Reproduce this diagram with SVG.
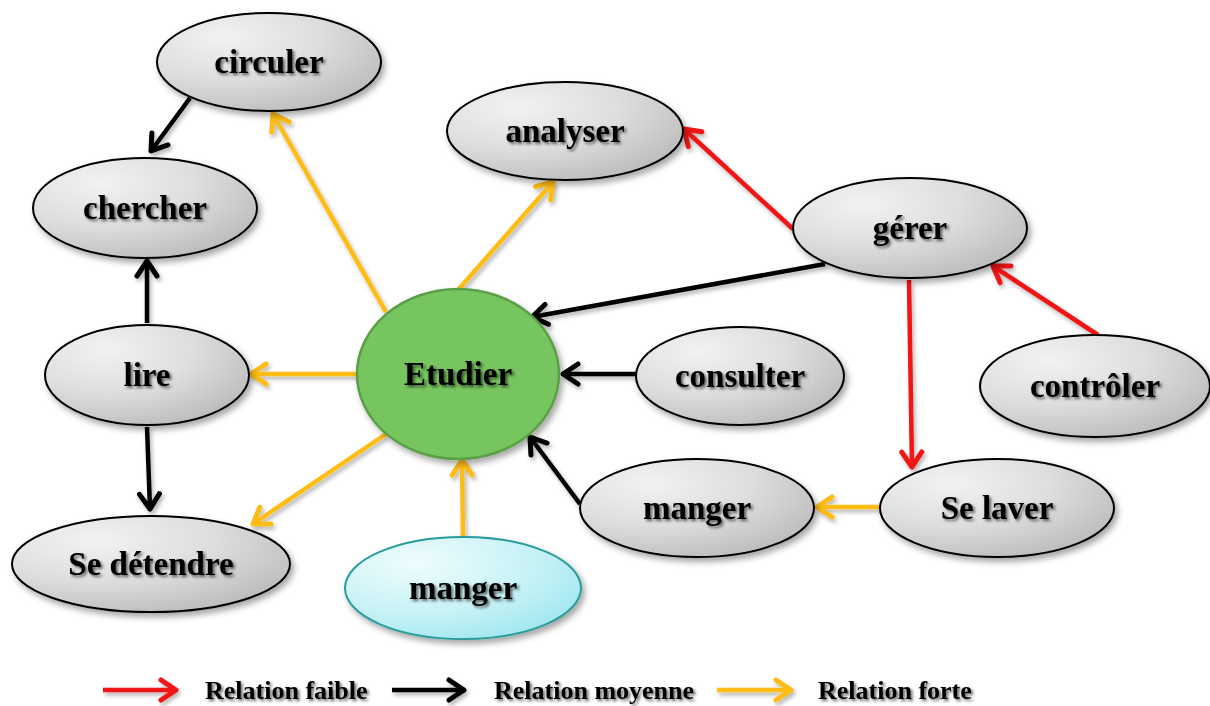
<svg xmlns="http://www.w3.org/2000/svg" width="1210" height="706" viewBox="0 0 1210 706">
<defs>
<style>
.lbl{font-family:"Liberation Serif","Times New Roman",serif;font-weight:bold;font-size:33px;fill:#000;text-anchor:middle;dominant-baseline:central;filter:url(#tsh)}
.leg{font-family:"Liberation Serif","Times New Roman",serif;font-weight:bold;font-size:26px;fill:#000;filter:url(#tsh)}
.gray{fill:url(#gg);stroke:#000;stroke-width:2;filter:url(#esh)}
.c{fill:none;stroke-width:4.5;filter:url(#lsh)}
.r{stroke:#f01414}
.k{stroke:#000}
.o{stroke:#fdbd12}
</style>
<radialGradient id="gg" cx="0.3" cy="0.25" r="0.85">
<stop offset="0" stop-color="#f2f2f2"/>
<stop offset="0.5" stop-color="#dedede"/>
<stop offset="1" stop-color="#bababa"/>
</radialGradient>
<radialGradient id="cg" cx="0.3" cy="0.25" r="0.85">
<stop offset="0" stop-color="#effcfd"/>
<stop offset="0.6" stop-color="#c6f2f6"/>
<stop offset="1" stop-color="#9fe6ef"/>
</radialGradient>
<filter id="esh" x="-20%" y="-20%" width="140%" height="150%">
<feDropShadow dx="3" dy="4" stdDeviation="3" flood-color="#000" flood-opacity="0.35"/>
</filter>
<filter id="tsh" x="-10%" y="-20%" width="130%" height="150%">
<feDropShadow dx="2" dy="2" stdDeviation="1.6" flood-color="#000" flood-opacity="0.6"/>
</filter>
<filter id="lsh" filterUnits="userSpaceOnUse" x="0" y="0" width="1210" height="706">
<feDropShadow dx="2" dy="3" stdDeviation="2" flood-color="#000" flood-opacity="0.3"/>
</filter>
<marker id="ar" viewBox="0 0 24 26" refX="20" refY="13" markerWidth="24" markerHeight="26" markerUnits="userSpaceOnUse" orient="auto">
<path d="M5,3 L20,13 L5,23" fill="none" stroke="#f01414" stroke-width="5" stroke-linecap="round" stroke-linejoin="round"/>
</marker>
<marker id="ak" viewBox="0 0 24 26" refX="20" refY="13" markerWidth="24" markerHeight="26" markerUnits="userSpaceOnUse" orient="auto">
<path d="M5,3 L20,13 L5,23" fill="none" stroke="#000" stroke-width="5" stroke-linecap="round" stroke-linejoin="round"/>
</marker>
<marker id="ao" viewBox="0 0 24 26" refX="20" refY="13" markerWidth="24" markerHeight="26" markerUnits="userSpaceOnUse" orient="auto">
<path d="M5,3 L20,13 L5,23" fill="none" stroke="#fdbd12" stroke-width="5" stroke-linecap="round" stroke-linejoin="round"/>
</marker>
</defs>
<rect width="1210" height="706" fill="#fff"/>

<g id="connectors">
<line class="c k" x1="190" y1="98" x2="151" y2="151" marker-end="url(#ak)"/>
<line class="c k" x1="147" y1="323" x2="147" y2="261" marker-end="url(#ak)"/>
<line class="c k" x1="147" y1="427" x2="150" y2="509" marker-end="url(#ak)"/>
<line class="c o" x1="357" y1="374" x2="251" y2="374" marker-end="url(#ao)"/>
<line class="c o" x1="386" y1="312" x2="273" y2="114" marker-end="url(#ao)"/>
<line class="c o" x1="458" y1="290" x2="553" y2="182" marker-end="url(#ao)"/>
<line class="c o" x1="386" y1="434" x2="253" y2="524" marker-end="url(#ao)"/>
<line class="c o" x1="463" y1="536" x2="462" y2="460" marker-end="url(#ao)"/>
<line class="c k" x1="825" y1="264" x2="532" y2="317" marker-end="url(#ak)"/>
<line class="c k" x1="636" y1="374" x2="563" y2="374" marker-end="url(#ak)"/>
<line class="c k" x1="580" y1="504" x2="530" y2="437" marker-end="url(#ak)"/>
<line class="c r" x1="793" y1="229" x2="684" y2="129" marker-end="url(#ar)"/>
<line class="c r" x1="1098" y1="335" x2="993" y2="266" marker-end="url(#ar)"/>
<line class="c r" x1="909" y1="280" x2="912" y2="467" marker-end="url(#ar)"/>
<line class="c o" x1="880" y1="507" x2="817" y2="507" marker-end="url(#ao)"/>
</g>

<g id="n-circuler"><ellipse class="gray" cx="269" cy="62" rx="112" ry="49"/><text class="lbl" x="269" y="62">circuler</text></g>
<g id="n-chercher"><ellipse class="gray" cx="145" cy="208" rx="112" ry="50"/><text class="lbl" x="145" y="208">chercher</text></g>
<g id="n-analyser"><ellipse class="gray" cx="565" cy="131" rx="118" ry="49"/><text class="lbl" x="565" y="131">analyser</text></g>
<g id="n-gerer"><ellipse class="gray" cx="910" cy="228" rx="117" ry="50"/><text class="lbl" x="910" y="228">gérer</text></g>
<g id="n-lire"><ellipse class="gray" cx="147" cy="375" rx="102" ry="50"/><text class="lbl" x="147" y="375">lire</text></g>
<g id="n-etudier"><ellipse cx="458" cy="374" rx="101" ry="85" fill="#77c55f" stroke="#5a9e46" stroke-width="2.5" filter="url(#esh)"/><text class="lbl" x="458" y="374">Etudier</text></g>
<g id="n-consulter"><ellipse class="gray" cx="740" cy="376" rx="104" ry="49"/><text class="lbl" x="740" y="376">consulter</text></g>
<g id="n-controler"><ellipse class="gray" cx="1095" cy="386" rx="115" ry="51"/><text class="lbl" x="1095" y="386">contrôler</text></g>
<g id="n-manger2"><ellipse class="gray" cx="697" cy="508" rx="117" ry="49"/><text class="lbl" x="697" y="508">manger</text></g>
<g id="n-selaver"><ellipse class="gray" cx="997" cy="508" rx="117" ry="49"/><text class="lbl" x="997" y="508">Se laver</text></g>
<g id="n-sedetendre"><ellipse class="gray" cx="151" cy="564" rx="139" ry="48"/><text class="lbl" x="151" y="564">Se détendre</text></g>
<g id="n-manger1"><ellipse cx="463" cy="588" rx="118" ry="51" fill="url(#cg)" stroke="#2a9c9c" stroke-width="2" filter="url(#esh)"/><text class="lbl" x="463" y="588">manger</text></g>

<g id="legend">
<line class="c r" x1="103" y1="690" x2="176" y2="690" marker-end="url(#ar)"/>
<text class="leg" x="205" y="699">Relation faible</text>
<line class="c k" x1="392" y1="690" x2="464" y2="690" marker-end="url(#ak)"/>
<text class="leg" x="494" y="699">Relation moyenne</text>
<line class="c o" x1="717" y1="690" x2="791" y2="690" marker-end="url(#ao)"/>
<text class="leg" x="818" y="699">Relation forte</text>
</g>
</svg>
